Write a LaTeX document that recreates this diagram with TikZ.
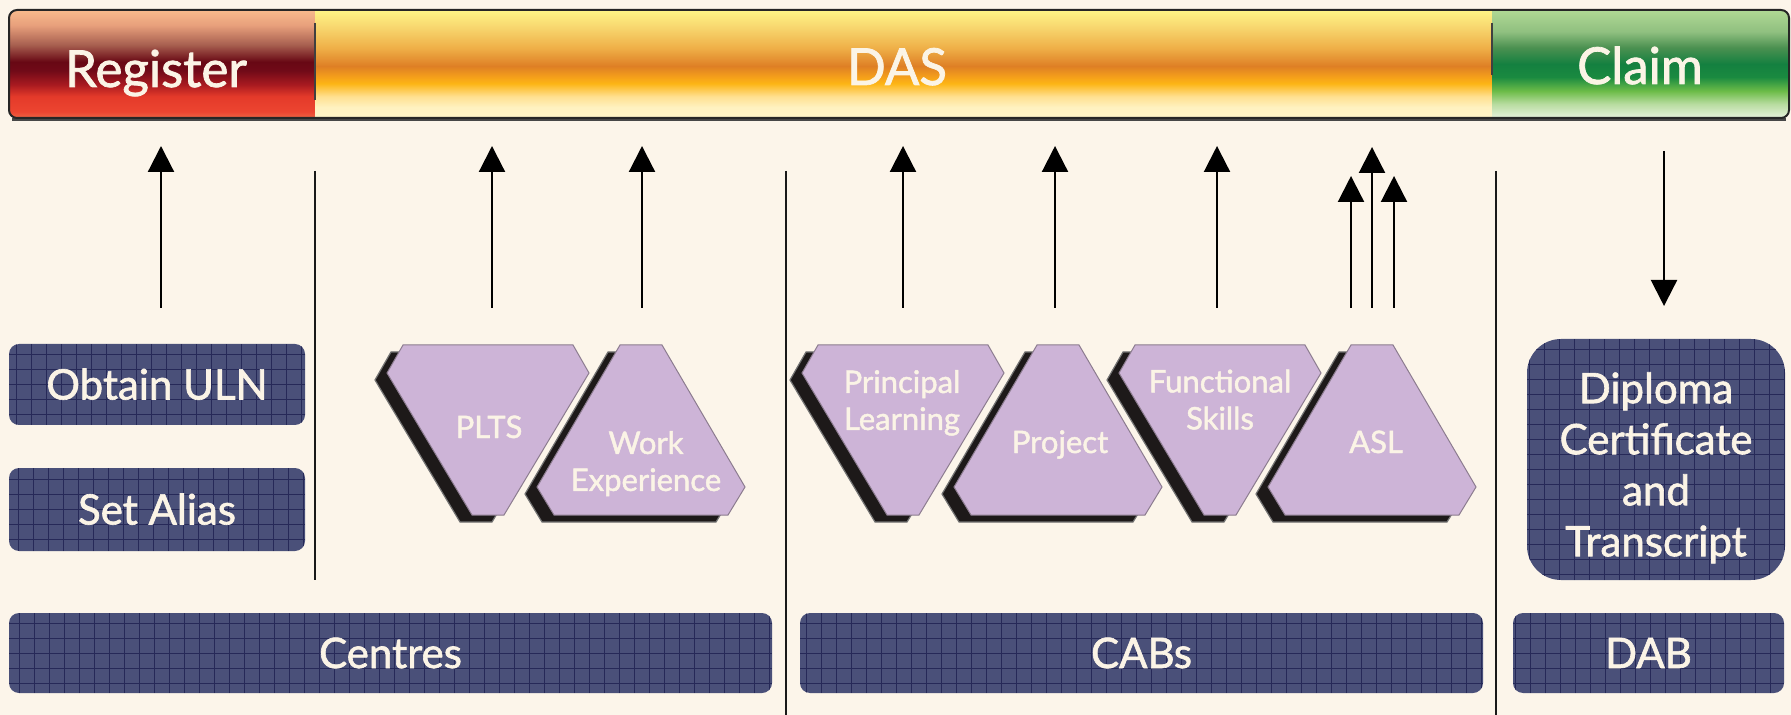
\documentclass[tikz,border=0pt]{standalone}
\usepackage{fontspec}
\setmainfont{Lato}[FakeBold=1.5]
\usetikzlibrary{arrows.meta}

\definecolor{bg}{HTML}{FCF5EA}
\definecolor{cream}{HTML}{FBF4E6}
\definecolor{navy}{HTML}{4A5079}
\definecolor{navyline}{HTML}{262958}
\definecolor{lilac}{HTML}{CDB4D7}
\definecolor{lilacedge}{HTML}{8C7C8F}
\definecolor{shadowc}{HTML}{1D1919}

% register segment colours (bottom to top)
\definecolor{rA}{HTML}{F07050}
\definecolor{rB}{HTML}{EE5A3E}
\definecolor{rC}{HTML}{EC4530}
\definecolor{rD}{HTML}{E43A2A}
\definecolor{rE}{HTML}{A81A20}
\definecolor{rF}{HTML}{700A18}
\definecolor{rG}{HTML}{680814}
\definecolor{rH}{HTML}{A86050}
\definecolor{rI}{HTML}{E8A07C}
\definecolor{rJ}{HTML}{F8BA8C}
% DAS segment colours
\definecolor{dA}{HTML}{FFF5C8}
\definecolor{dB}{HTML}{FFF2C0}
\definecolor{dC}{HTML}{FFE090}
\definecolor{dD}{HTML}{FDB515}
\definecolor{dE}{HTML}{F5A01A}
\definecolor{dF}{HTML}{DE7F25}
\definecolor{dG}{HTML}{EFB048}
\definecolor{dH}{HTML}{F8D870}
\definecolor{dI}{HTML}{FFF585}
% claim segment colours
\definecolor{cA}{HTML}{E6F2DC}
\definecolor{cB}{HTML}{B8DCA0}
\definecolor{cC}{HTML}{6CBC48}
\definecolor{cD}{HTML}{1A8A40}
\definecolor{cE}{HTML}{148040}
\definecolor{cF}{HTML}{4A9050}
\definecolor{cG}{HTML}{90C080}
\definecolor{cH}{HTML}{B0D894}

\pgfdeclareverticalshading{regshade}{100bp}{color(0bp)=(rA); color(25bp)=(rA);
  color(26bp)=(rB); color(28bp)=(rC); color(35bp)=(rD); color(40.5bp)=(rE);
  color(47bp)=(rF); color(51bp)=(rG); color(59bp)=(rH); color(68bp)=(rI);
  color(75bp)=(rJ); color(100bp)=(rJ)}
\pgfdeclareverticalshading{dasshade}{100bp}{color(0bp)=(dA); color(25bp)=(dA);
  color(30bp)=(dB); color(35bp)=(dC); color(41bp)=(dD); color(44bp)=(dE);
  color(49bp)=(dF); color(57.5bp)=(dG); color(67.5bp)=(dH);
  color(75bp)=(dI); color(100bp)=(dI)}
\pgfdeclareverticalshading{claimshade}{100bp}{color(0bp)=(cA); color(25bp)=(cA);
  color(31.5bp)=(cB); color(37.5bp)=(cC); color(44bp)=(cD); color(50bp)=(cE);
  color(57.5bp)=(cF); color(65bp)=(cG); color(75bp)=(cH); color(100bp)=(cH)}

% hexagon outlines, given the centre x
\newcommand\dhexpath[1]{({#1-85},345) -- ({#1+85},345) -- ({#1+101},373) -- ({#1+16},515) -- ({#1-16},515) -- ({#1-101},373) -- cycle}
\newcommand\uhexpath[1]{({#1-21},345) -- ({#1+21},345) -- ({#1+104},487) -- ({#1+87},515) -- ({#1-87},515) -- ({#1-104},487) -- cycle}
\newcommand\twolines[2]{\begin{tabular}{@{}c@{}}#1\\#2\end{tabular}}

\begin{document}
\begin{tikzpicture}[x=0.5pt,y=-0.5pt,
  barlabel/.style={text=cream, inner sep=0pt, font=\fontsize{25.5}{30}\selectfont},
  navybox/.style={fill=navy, rounded corners=5pt, text=cream, inner sep=0pt,
    font=\fontsize{21}{25}\selectfont, text height=15pt, text depth=0pt,
    path picture={\draw[navyline, line width=0.45pt, step=7.5pt]
      (path picture bounding box.south west) grid (path picture bounding box.north east);}},
  hexlabel/.style={text=cream, inner sep=0pt, font=\fontsize{15.5}{18.5}\selectfont},
  hexfill/.style={fill=lilac, draw=lilacedge, line width=0.5pt},
  hexshadow/.style={fill=shadowc, draw=black!55, line width=0.6pt},
  uparrow/.style={line width=1.1pt, -{Triangle[length=13pt,width=13pt]}},
  divider/.style={line width=1pt, draw=black!90},
  segedge/.style={line width=0.8pt, draw=black!75}]

\useasboundingbox[fill=bg] (0,0) rectangle (1791,715);

% ---- top process bar ----
\begin{scope}
  \clip[rounded corners=4pt] (9,10) rectangle (1789,118);
  \shade[shading=regshade] (9,10) rectangle (315,118);
  \shade[shading=dasshade] (315,10) rectangle (1492,118);
  \shade[shading=claimshade] (1492,10) rectangle (1789,118);
  \draw[segedge] (315,23) -- (315,100);
  \draw[segedge] (1492,23) -- (1492,75);
\end{scope}
\draw[line width=1.6pt, draw=black!72] (12,119.5) -- (1786,119.5);
\draw[line width=1pt, draw=black!85, rounded corners=4pt] (9,10) rectangle (1789,118);

\node[barlabel, anchor=base] (register) at (156,87) {Register};
\node[barlabel, anchor=base] (das) at (897,85) {DAS};
\node[barlabel, anchor=base] (claim) at (1640,84) {Claim};

% ---- column dividers ----
\draw[divider] (315,171) -- (315,580);
\draw[divider] (786,171) -- (786,715);
\draw[divider] (1496,171) -- (1496,715);

% ---- blue boxes ----
\node[navybox, minimum width=148pt, minimum height=40.5pt] (uln) at (157,384.5) {Obtain ULN};
\node[navybox, minimum width=148pt, minimum height=41.5pt] (alias) at (157,509.5) {Set Alias};
\node[navybox, minimum width=381.5pt, minimum height=40pt] (centres) at (390.5,653) {Centres};
\node[navybox, minimum width=341.5pt, minimum height=40pt] (cabs) at (1141.5,653) {CABs};
\node[navybox, minimum width=135.5pt, minimum height=40pt] (dab) at (1648.5,653) {DAB};
\node[navybox, rounded corners=17pt, text height=, text depth=, minimum width=129pt, minimum height=120.5pt]
  (diploma) at (1656,459.5)
  {\fontsize{21}{25.5}\selectfont\raisebox{-5pt}[\height][\depth]{\begin{tabular}{@{}c@{}}Diploma\\Certificate\\and\\Transcript\end{tabular}}};

% ---- qualification components ----
\fill[hexshadow, shift={(-12,7)}] \dhexpath{488};
\filldraw[hexfill] \dhexpath{488};
\fill[hexshadow, shift={(-12,7)}] \uhexpath{641};
\filldraw[hexfill] \uhexpath{641};
\fill[hexshadow, shift={(-12,7)}] \dhexpath{903};
\filldraw[hexfill] \dhexpath{903};
\fill[hexshadow, shift={(-12,7)}] \uhexpath{1058};
\filldraw[hexfill] \uhexpath{1058};
\fill[hexshadow, shift={(-12,7)}] \dhexpath{1220};
\filldraw[hexfill] \dhexpath{1220};
\fill[hexshadow, shift={(-12,7)}] \uhexpath{1372};
\filldraw[hexfill] \uhexpath{1372};

\node[hexlabel, anchor=base] (plts) at (489,438) {PLTS};
\node[hexlabel] (work) at (646,465) {\twolines{Work}{Experience}};
\node[hexlabel] (principal) at (902,404) {\twolines{Principal}{Learning}};
\node[hexlabel, anchor=base] (project) at (1060,453) {Project};
\node[hexlabel] (functional) at (1220,403.5) {\twolines{Functional}{Skills}};
\node[hexlabel, anchor=base] (asl) at (1376,453) {ASL};

% ---- arrow ends ----
\coordinate (regfoot) at (161,308);   \coordinate (regtip) at (161,146);
\coordinate (pltsfoot) at (492,308);  \coordinate (pltstip) at (492,146);
\coordinate (workfoot) at (642,308);  \coordinate (worktip) at (642,146);
\coordinate (plfoot) at (903,308);    \coordinate (pltip) at (903,146);
\coordinate (projfoot) at (1055,308); \coordinate (projtip) at (1055,146);
\coordinate (fsfoot) at (1217,308);   \coordinate (fstip) at (1217,146);
\coordinate (aslfootA) at (1351,308); \coordinate (asltipA) at (1351,176);
\coordinate (aslfootB) at (1372,308); \coordinate (asltipB) at (1372,147);
\coordinate (aslfootC) at (1394,308); \coordinate (asltipC) at (1394,176);
\coordinate (claimfoot) at (1664,151); \coordinate (claimtip) at (1664,306);

\draw[uparrow] (regfoot) -- (regtip);
\draw[uparrow] (pltsfoot) -- (pltstip);
\draw[uparrow] (workfoot) -- (worktip);
\draw[uparrow] (plfoot) -- (pltip);
\draw[uparrow] (projfoot) -- (projtip);
\draw[uparrow] (fsfoot) -- (fstip);
\draw[uparrow] (aslfootA) -- (asltipA);
\draw[uparrow] (aslfootB) -- (asltipB);
\draw[uparrow] (aslfootC) -- (asltipC);
\draw[uparrow] (claimfoot) -- (claimtip);
\end{tikzpicture}
\end{document}
